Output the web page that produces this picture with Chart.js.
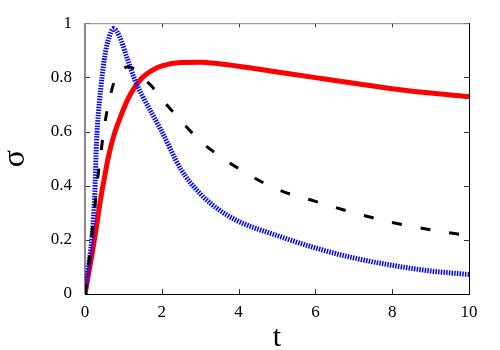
<!DOCTYPE html>
<html>
<head>
<meta charset="utf-8">
<script src="https://cdn.jsdelivr.net/npm/chart.js@4"></script>
<style>
  body { margin: 0; background: #fff; }
  #wrap { width: 500px; height: 350px; position: relative; }
</style>
</head>
<body>
<div id="wrap"><canvas id="sigmaChart"></canvas></div>
<script>
// values
const tValues = [0, 0.1, 0.15, 0.2, 0.25, 0.3, 0.35, 0.4, 0.5, 0.6, 0.75, 0.9, 1.1, 1.3, 1.5, 1.75, 2, 2.5, 3, 3.5, 4, 5, 6, 7, 8, 9, 10];
const sigmaRed = [0, 0.08, 0.12, 0.16, 0.205, 0.25, 0.298, 0.345, 0.425, 0.50, 0.585, 0.645, 0.715, 0.765, 0.80, 0.826, 0.842, 0.855, 0.856, 0.85, 0.841, 0.82, 0.799, 0.778, 0.758, 0.742, 0.729];
const sigmaBlack = [0, 0.12, 0.18, 0.255, 0.315, 0.385, 0.45, 0.505, 0.615, 0.695, 0.78, 0.82, 0.838, 0.83, 0.80, 0.765, 0.72, 0.64, 0.565, 0.51, 0.463, 0.387, 0.342, 0.30, 0.264, 0.237, 0.215];
const sigmaBlue = [0, 0.11, 0.165, 0.24, 0.355, 0.56, 0.67, 0.745, 0.865, 0.935, 0.98, 0.95, 0.87, 0.79, 0.73, 0.665, 0.60, 0.46, 0.37, 0.31, 0.268, 0.216, 0.17, 0.133, 0.106, 0.085, 0.072];

const serif = "'Liberation Serif', 'Times New Roman', serif";

const toPoints = ys => tValues.map((t, i) => ({ x: t, y: ys[i] }));

// frame and inward tick marks on all four sides
const framePlugin = {
    id: 'frame',
    beforeDatasetsDraw(chart) {
        const { ctx, chartArea: a, scales: { x, y } } = chart;
        ctx.save();
        ctx.lineWidth = 1;
        ctx.strokeStyle = '#333';
        ctx.beginPath();
        x.ticks.forEach(tk => {
            const px = Math.round(x.getPixelForValue(tk.value)) + 0.5;
            ctx.moveTo(px, a.bottom); ctx.lineTo(px, a.bottom - 5);
            ctx.moveTo(px, a.top); ctx.lineTo(px, a.top + 4);
        });
        y.ticks.forEach(tk => {
            const py = Math.round(y.getPixelForValue(tk.value)) + 0.5;
            ctx.moveTo(a.left, py); ctx.lineTo(a.left + 5, py);
            ctx.moveTo(a.right, py); ctx.lineTo(a.right - 5, py);
        });
        ctx.stroke();

        ctx.strokeStyle = '#888';
        ctx.beginPath();
        ctx.moveTo(a.left, a.top + 0.5); ctx.lineTo(a.right, a.top + 0.5);
        ctx.stroke();
        ctx.lineWidth = 2;
        ctx.beginPath();
        ctx.moveTo(a.left, a.top); ctx.lineTo(a.left, a.bottom);
        ctx.stroke();

        ctx.strokeStyle = '#000';
        ctx.lineWidth = 1;
        ctx.beginPath();
        ctx.moveTo(a.left, a.bottom + 0.5); ctx.lineTo(a.right + 1, a.bottom + 0.5);
        ctx.moveTo(a.right + 0.5, a.top); ctx.lineTo(a.right + 0.5, a.bottom);
        ctx.stroke();
        ctx.restore();
    }
};

const ctx = document.getElementById('sigmaChart').getContext('2d');
new Chart(ctx, {
    type: 'line',
    data: {
        datasets: [
            { data: toPoints(sigmaBlack), borderColor: '#000', borderWidth: 3, borderDash: [10, 19], order: 0 },
            { data: toPoints(sigmaBlue), borderColor: '#0000ff', borderWidth: 5, borderDash: [1.5, 1.2], order: 1 },
            { data: toPoints(sigmaRed), borderColor: '#ff0000', borderWidth: 5, order: 2 }
        ]
    },
    options: {
        responsive: true, maintainAspectRatio: false, animation: false,
        layout: { padding: { top: 21, right: 31, left: 0, bottom: 0 } },
        elements: {
            point: { radius: 0 },
            line: { cubicInterpolationMode: 'monotone', fill: false }
        },
        scales: {
            x: {
                type: 'linear', min: 0, max: 10,
                grid: { display: false, drawTicks: false, tickLength: 0 }, border: { display: false },
                ticks: { stepSize: 2, padding: 8, color: '#000', font: { family: serif, size: 17 }, maxRotation: 0 },
                title: { display: true, text: 't', color: '#000', font: { family: serif, size: 30, lineHeight: 1 }, padding: { top: 0, bottom: -3 } },
                afterFit: s => { s.height = 56; }
            },
            y: {
                type: 'linear', min: 0, max: 1,
                grid: { display: false, drawTicks: false, tickLength: 0 }, border: { display: false },
                ticks: { stepSize: 0.2, padding: 13, color: '#000', font: { family: serif, size: 17 }, callback: v => String(+v.toFixed(1)) },
                title: { display: true, text: 'σ', color: '#000', font: { family: serif, size: 32, lineHeight: 1 }, padding: { top: 0, bottom: 0 } },
                afterFit: s => { s.width = 85; }
            }
        },
        plugins: { legend: { display: false }, tooltip: { enabled: false } }
    },
    plugins: [framePlugin]
});
</script>
</body>
</html>
